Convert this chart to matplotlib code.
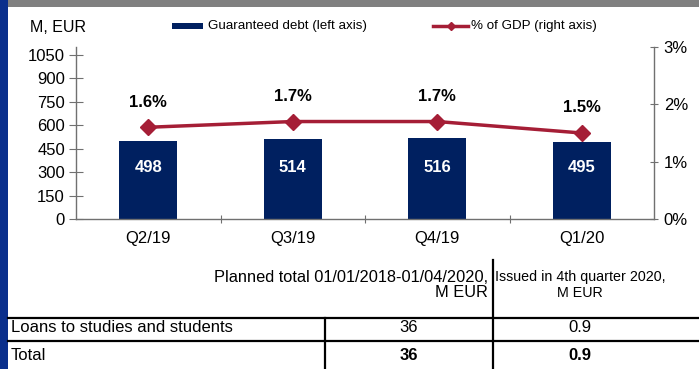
import matplotlib
matplotlib.use("Agg")
import matplotlib.pyplot as plt
from matplotlib.lines import Line2D
from matplotlib.patches import Rectangle

plt.rcParams["font.family"] = ["Liberation Sans", "DejaVu Sans"]

quarters = ["Q2/19", "Q3/19", "Q4/19", "Q1/20"]
guaranteed_debt = [498, 514, 516, 495]
gdp_share = [1.6, 1.7, 1.7, 1.5]

table_header = ["Planned total 01/01/2018-01/04/2020,\nM EUR",
                "Issued in 4th quarter 2020,\nM EUR"]
table_rows = ["Loans to studies and students", "Total"]
planned_total = [36, 36]
issued_q4 = [0.9, 0.9]

W, H = 699, 369
NAVY = "#002060"
RED = "#A51E36"
AXIS_GREY = "#707070"


def fx(px):
    return px / W


def fy(py):
    return 1 - py / H


fig = plt.figure(figsize=(W / 100, H / 100), dpi=100)

# frame decorations
fig.add_artist(Rectangle((0, 0), fx(8), 1, transform=fig.transFigure,
                         color="#0A2F8C", lw=0))
fig.add_artist(Rectangle((fx(8), fy(7)), 1, fy(0) - fy(7),
                         transform=fig.transFigure, color="#808080", lw=0))

ax = fig.add_axes([fx(76), fy(219), fx(654) - fx(76), fy(47) - fy(219)])
ax2 = ax.twinx()

x = range(len(quarters))
ax.bar(x, guaranteed_debt, width=0.4, color=NAVY, zorder=2)
for xi, v in zip(x, guaranteed_debt):
    ax.text(xi, 330, f"{v}", color="white", fontweight="bold",
            fontsize=12, ha="center", va="center", zorder=3)

ax.set_xlim(-0.5, len(quarters) - 0.5)
ax.set_ylim(0, 1100)
ax.set_yticks(range(0, 1051, 150))
ax.set_xticks([i + 0.5 for i in range(len(quarters) - 1)])
ax.set_xticklabels([])
ax.set_xticks(list(x), minor=True)
ax.set_xticklabels(quarters, minor=True)
ax.tick_params(axis="x", which="major", direction="inout", length=6,
               color=AXIS_GREY)
ax.tick_params(axis="x", which="minor", length=0, labelsize=12, pad=9)
ax.tick_params(axis="y", direction="inout", length=10, color=AXIS_GREY,
               labelsize=12, pad=3)

ax2.plot(list(x), gdp_share, color=RED, lw=2.5, marker="D", markersize=8,
         zorder=4)
for xi, v in zip(x, gdp_share):
    ax2.annotate(f"{v:.1f}%", (xi, v), xytext=(0, 18),
                 textcoords="offset points", ha="center", va="center",
                 fontweight="bold", fontsize=12)
ax2.set_ylim(0, 3)
ax2.set_yticks([0, 1, 2, 3])
ax2.set_yticklabels(["0%", "1%", "2%", "3%"])
ax2.tick_params(axis="y", direction="inout", length=6, color=AXIS_GREY,
                labelsize=12, pad=4)

for a in (ax, ax2):
    a.spines["top"].set_visible(False)
    for side in ("left", "right", "bottom"):
        a.spines[side].set_color(AXIS_GREY)
        a.spines[side].set_linewidth(1)
ax.spines["right"].set_visible(False)
ax2.spines["left"].set_visible(False)
ax2.spines["bottom"].set_visible(False)
ax.set_zorder(ax2.get_zorder() - 1)
ax2.patch.set_visible(False)

fig.text(fx(30), fy(27), "M, EUR", fontsize=11.5, ha="left", va="center")

# legend
fig.add_artist(Rectangle((fx(172), fy(29)), fx(203) - fx(172), fy(23) - fy(29),
                         transform=fig.transFigure, color=NAVY, lw=0))
fig.text(fx(208), fy(26), "Guaranteed debt (left axis)", fontsize=9.6,
         ha="left", va="center")
fig.add_artist(Line2D([fx(433), fx(468)], [fy(26), fy(26)],
                      transform=fig.transFigure, color=RED, lw=2.5))
fig.add_artist(Line2D([fx(451)], [fy(26)], transform=fig.transFigure,
                      color=RED, marker="D", markersize=4, lw=0))
fig.text(fx(471), fy(26), "% of GDP (right axis)", fontsize=9.6,
         ha="left", va="center")

# table below the chart
fig.text(fx(488), fy(285), table_header[0], fontsize=11.8, ha="right",
         va="center", multialignment="right", linespacing=1.07)
fig.text(fx(580), fy(285), table_header[1], fontsize=10.3, ha="center",
         va="center", multialignment="center", linespacing=1.22)

row_y = [327, 356]
for i, (label, p, q) in enumerate(zip(table_rows, planned_total, issued_q4)):
    weight = "bold" if label == "Total" else "normal"
    fig.text(fx(11), fy(row_y[i]), label, fontsize=12, ha="left", va="center")
    fig.text(fx(409), fy(row_y[i]), f"{p}", fontsize=12, ha="center",
             va="center", fontweight=weight)
    fig.text(fx(580), fy(row_y[i]), f"{q}", fontsize=12, ha="center",
             va="center", fontweight=weight)

for ly in (318, 341):
    fig.add_artist(Line2D([fx(8), 1], [fy(ly), fy(ly)],
                          transform=fig.transFigure, color="black", lw=1.6))
fig.add_artist(Line2D([fx(325), fx(325)], [fy(318), 0],
                      transform=fig.transFigure, color="black", lw=1.6))
fig.add_artist(Line2D([fx(493), fx(493)], [fy(260), 0],
                      transform=fig.transFigure, color="black", lw=1.6))

fig.savefig("out.png", dpi=100)
